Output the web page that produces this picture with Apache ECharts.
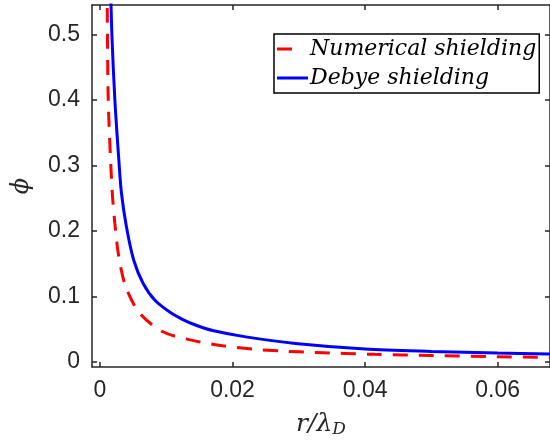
<!DOCTYPE html>
<html>
<head>
<meta charset="utf-8">
<script src="https://cdn.jsdelivr.net/npm/echarts@6/dist/echarts.min.js"></script>
<style>
  html, body { margin: 0; padding: 0; background: #fff; }
  #chart { width: 550px; height: 444px; }
</style>
</head>
<body>
<div id="chart"></div>
<script>
const xTicks = [0, 0.02, 0.04, 0.06];
const yTicks = [0, 0.1, 0.2, 0.3, 0.4, 0.5];

// Debye shielding (solid blue)
const rDebye = [0.0015, 0.0018, 0.00225, 0.00285, 0.00325, 0.004, 0.0051, 0.0065, 0.0083, 0.0108, 0.0125, 0.0145, 0.017, 0.022, 0.0295, 0.04, 0.05, 0.06, 0.068];
const phiDebye = [0.61, 0.5, 0.4, 0.308, 0.257, 0.206, 0.155, 0.12, 0.094, 0.074, 0.0645, 0.0558, 0.0478, 0.038, 0.028, 0.0195, 0.0158, 0.0132, 0.0118];

// Numerical shielding (dashed red)
const rNum = [0.001, 0.0011, 0.00125, 0.00165, 0.0019, 0.00225, 0.00285, 0.0039, 0.006, 0.0095, 0.0138, 0.0185, 0.023, 0.0275, 0.0325, 0.0415, 0.05, 0.06, 0.068];
const phiNum = [0.62, 0.54, 0.4, 0.298, 0.252, 0.211, 0.16, 0.1145, 0.074, 0.0458, 0.033, 0.0245, 0.0194, 0.0163, 0.0143, 0.0113, 0.0095, 0.0077, 0.0065];

const pairs = (xs, ys) => xs.map((x, i) => [x, ys[i]]);

const axisCol = "#262626";
const labelFont = { fontFamily: "Liberation Sans", fontSize: 23, color: axisCol };

const chart = echarts.init(document.getElementById("chart"));

const xBase = {
  type: "value",
  min: -0.0012,
  max: 0.0679,
  splitLine: { show: false },
  axisLine: { show: true, onZero: false, lineStyle: { color: axisCol, width: 1.5 } },
  axisTick: { show: true, inside: true, length: 5, customValues: xTicks, lineStyle: { color: axisCol, width: 1.5 } },
};
const yBase = {
  type: "value",
  min: -0.008,
  max: 0.545,
  splitLine: { show: false },
  axisLine: { show: true, onZero: false, lineStyle: { color: axisCol, width: 1.5 } },
  axisTick: { show: true, inside: true, length: 5, customValues: yTicks, lineStyle: { color: axisCol, width: 1.5 } },
};

chart.setOption({
  animation: false,
  grid: { left: 92, top: 5, right: -2, bottom: 77 },
  legend: {
    left: 274,
    top: 34,
    orient: "vertical",
    backgroundColor: "#fff",
    borderColor: "#000",
    borderWidth: 1.5,
    borderRadius: 0,
    padding: [4, 3, 4, 3],
    itemGap: 7,
    itemWidth: 31,
    itemHeight: 3,
    textStyle: { fontFamily: "DejaVu Serif", fontStyle: "italic", fontSize: 22, color: "#000", padding: [0, 0, 0, -3] },
    data: [
      // one dash of the red pattern, then blank
      { name: "Numerical shielding", icon: "path://M0,0H15V3H0Z M31,0L31,3", itemStyle: { color: "#ff0000" } },
      { name: "Debye shielding", icon: "rect", itemStyle: { color: "#0000ff" } },
    ],
  },
  xAxis: [
    Object.assign({}, xBase, {
      position: "bottom",
      name: "{i|r/λ}{s|D}",
      nameLocation: "middle",
      nameGap: 44,
      nameTextStyle: {
        rich: {
          i: { fontFamily: "DejaVu Serif", fontStyle: "italic", fontSize: 25, color: axisCol },
          s: { fontFamily: "DejaVu Serif", fontStyle: "italic", fontSize: 17, color: axisCol, padding: [10, 0, 0, 0] },
        },
      },
      axisLabel: {
        show: true, margin: 12, customValues: xTicks,
        formatter: (v) => String(v),
        ...labelFont,
      },
    }),
    Object.assign({}, xBase, { position: "top", axisLabel: { show: false } }),
  ],
  yAxis: [
    Object.assign({}, yBase, {
      position: "left",
      name: "ϕ",
      nameLocation: "middle",
      nameRotate: 90,
      nameGap: 58,
      nameTextStyle: { fontFamily: "DejaVu Serif", fontStyle: "italic", fontSize: 24, color: axisCol },
      axisLabel: {
        show: true, margin: 12, customValues: yTicks,
        formatter: (v) => String(v),
        ...labelFont,
      },
    }),
    Object.assign({}, yBase, { position: "right", axisLabel: { show: false } }),
  ],
  series: [
    {
      name: "Numerical shielding",
      type: "line",
      xAxisIndex: 0,
      yAxisIndex: 0,
      data: pairs(rNum, phiNum),
      showSymbol: false,
      symbol: "none",
      smooth: 0.3,
      z: 3,
      lineStyle: { color: "#ff0000", width: 3, type: [15, 11] },
      itemStyle: { color: "#ff0000" },
    },
    {
      name: "Debye shielding",
      type: "line",
      xAxisIndex: 0,
      yAxisIndex: 0,
      data: pairs(rDebye, phiDebye),
      showSymbol: false,
      symbol: "none",
      smooth: 0.3,
      z: 2,
      lineStyle: { color: "#0000ff", width: 3 },
      itemStyle: { color: "#0000ff" },
    },
  ],
});
</script>
</body>
</html>
